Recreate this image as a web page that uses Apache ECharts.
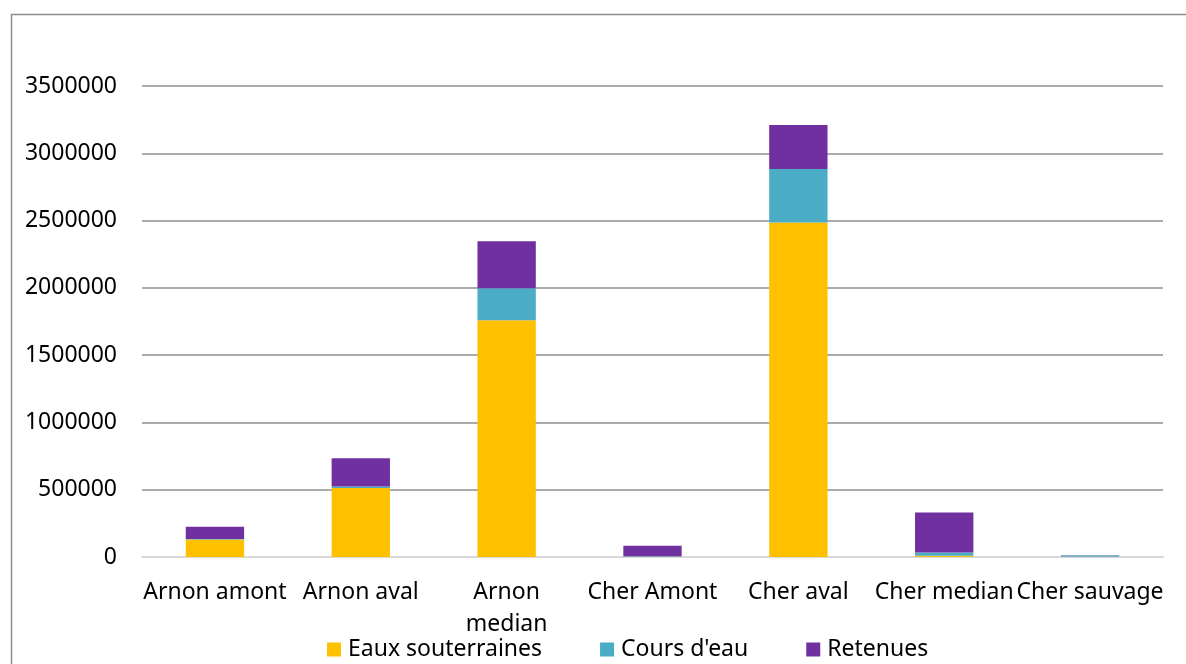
<!DOCTYPE html>
<html>
<head>
<meta charset="utf-8">
<script src="https://cdn.jsdelivr.net/npm/echarts@6/dist/echarts.min.js"></script>
<style>html,body{margin:0;padding:0;background:#fff;}#c{width:1186px;height:664px;}</style>
</head>
<body>
<div id="c"></div>
<script>
const categories = ['Arnon amont','Arnon aval','Arnon median','Cher Amont','Cher aval','Cher median','Cher sauvage'];
const eauxSouterraines = [130000, 512000, 1759000, 2000, 2486000, 10000, 2000];
const coursDEau = [3000, 12000, 238000, 4000, 397000, 23000, 9000];
const retenues = [92000, 209000, 350000, 77000, 327000, 298000, 2000];
const yTicks = {min: 0, max: 3500000, interval: 500000};

const FONT = 'Noto Sans';
const chart = echarts.init(document.getElementById('c'));
chart.setOption({
  animation: false,
  graphic: [{type:'rect', left: 9, top: 12, shape:{width: 1176, height: 700}, style:{fill:'none', stroke:'#8c8c8c', lineWidth: 1.5}, silent: true}],
  grid: {left: 142, right: 23, top: 86, bottom: 107, containLabel: false},
  legend: {
    bottom: -2, left: 322, itemWidth: 14, itemHeight: 14, itemGap: 58,
    icon: 'rect',
    textStyle: {fontFamily: FONT, fontSize: 23, color: '#000', padding: [0,0,0,2]},
    data: ['Eaux souterraines', "Cours d'eau", 'Retenues']
  },
  xAxis: {
    type: 'category', data: categories,
    axisLine: {lineStyle: {color: '#d9d9d9', width: 2}},
    axisTick: {show: false},
    axisLabel: {interval: 0, margin: 19, fontFamily: FONT, fontSize: 23, color: '#000', lineHeight: 32,
      formatter: v => v === 'Arnon median' ? 'Arnon\nmedian' : v}
  },
  yAxis: {
    type: 'value', min: yTicks.min, max: yTicks.max, interval: yTicks.interval,
    axisLine: {show: false}, axisTick: {show: false},
    splitLine: {lineStyle: {color: '#8f8f8f', width: 1.5}},
    axisLabel: {margin: 25, fontFamily: FONT, fontSize: 23, color: '#000', formatter: v => String(v)}
  },
  series: [
    {name: 'Eaux souterraines', type: 'bar', stack: 's', barWidth: '40%', data: eauxSouterraines, itemStyle: {color: '#FFC000'}},
    {name: "Cours d'eau", type: 'bar', stack: 's', data: coursDEau, itemStyle: {color: '#4BACC6'}},
    {name: 'Retenues', type: 'bar', stack: 's', data: retenues, itemStyle: {color: '#7030A0'}}
  ]
});
</script>
</body>
</html>
